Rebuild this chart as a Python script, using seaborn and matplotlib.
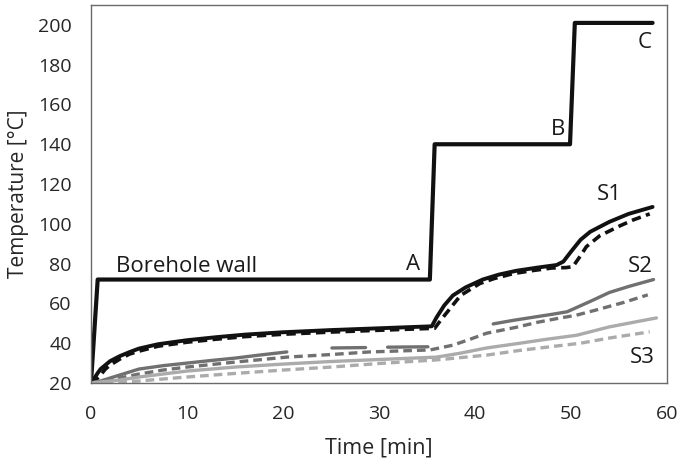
import pandas as pd
import matplotlib
matplotlib.use("Agg")
import matplotlib.pyplot as plt
import seaborn as sns

# borehole wall temperature (steps A, B, C)
bore_t = [0, 0.7, 35.3, 35.8, 49.9, 50.4, 58.5]
bore_T = [20, 72, 72, 140, 140, 201, 201]

# S1
s1_t = [0, 0.3, 0.7, 1, 1.5, 2, 3, 4, 5, 7, 10, 13, 16, 20, 25, 30, 35.5, 36, 36.8,
        37.7, 39, 40.8, 42.5, 44.3, 46.5, 48.5, 49.2, 50, 51, 52, 54, 56, 58.5]
s1_T = [20, 22, 25, 27, 29, 31, 33.5, 35.5, 37.3, 39.5, 41.5, 43, 44.3, 45.5, 46.6, 47.5,
        48.5, 53, 59, 64, 68, 72, 74.5, 76.4, 78, 79.3, 81, 86, 92, 96, 101, 105, 108.5]
s1d_t = [0, 0.5, 1, 1.5, 2, 3, 4, 5, 7, 10, 13, 16, 20, 25, 30, 35.8, 36.5, 37.5, 38.5,
         40.5, 42, 44, 46, 48, 49.5, 50.2, 51, 51.6, 53, 55.1, 56.5, 58.2]
s1d_T = [20, 21.5, 24, 27, 29, 32, 34.5, 36, 38.5, 40.5, 42, 43.3, 44.5, 45.6, 46.5, 47.5,
         52, 58, 64, 70, 72.5, 75, 76.5, 77.8, 78, 78.5, 84, 88.5, 94, 99, 102, 105]

# S2 (solid record has gaps)
s2_segments = [
    ([0, 1, 2, 3, 5, 7.5, 10, 12.5, 15, 17.5, 20.4],
     [20, 21, 22.5, 24, 27, 28.7, 30, 31.3, 32.5, 34, 35.6]),
    ([25.1, 28.6], [37.6, 37.8]),
    ([30.9, 35.1], [38, 38.2]),
    ([41.9, 44, 46, 48, 49.6, 52, 54, 56, 58.6],
     [49.7, 51.5, 53, 54.5, 55.8, 61, 65.5, 68.5, 72]),
]
s2d_t = [0, 2, 5, 7.5, 10, 15, 20.4, 25, 29, 35.3, 37.7, 39.5, 41.2, 44.3, 46.5, 48.9,
         50.5, 52.7, 55.5, 58]
s2d_T = [20, 21.5, 24.5, 26.5, 28, 30.5, 33, 34.3, 35.6, 36.6, 39, 42, 45, 48, 50.5, 52.7,
         54, 56.8, 60.5, 64.3]

# S3
s3_t = [0, 3, 5, 10, 15, 20, 25, 30, 36, 38.5, 41.2, 44.7, 47.5, 50.6, 54, 56.5, 58.9]
s3_T = [20, 21.5, 23, 26, 28, 29.5, 30.8, 31.8, 33, 35, 37.6, 40, 42, 44, 48.2, 50.5, 52.7]
s3d_t = [0, 2, 5, 10, 15, 20, 25, 30, 36, 41.2, 44.7, 48, 51, 54, 58.2]
s3d_T = [20, 20.3, 21, 23, 24.8, 26.5, 28, 29.8, 31.6, 34, 36.4, 38.3, 40, 42.6, 45.7]

sns.set_style("white")
plt.rcParams['font.family'] = ['Open Sans', 'DejaVu Sans']

fig = plt.figure(figsize=(6.85, 4.67), dpi=100)
ax = fig.add_axes([0.1328, 0.1799, 0.8409, 0.8094])

dash = (0, (2.6, 1.5))
black = '#111111'
mid = '#707070'
light = '#ababab'

sns.lineplot(x=bore_t, y=bore_T, ax=ax, color=black, lw=3.0, sort=False)
sns.lineplot(x=s1_t, y=s1_T, ax=ax, color=black, lw=2.8, sort=False)
sns.lineplot(x=s1d_t, y=s1d_T, ax=ax, color=black, lw=2.6, linestyle=dash, sort=False)
for t, T in s2_segments:
    sns.lineplot(x=t, y=T, ax=ax, color=mid, lw=2.4, sort=False)
sns.lineplot(x=s2d_t, y=s2d_T, ax=ax, color=mid, lw=2.4, linestyle=dash, sort=False)
sns.lineplot(x=s3_t, y=s3_T, ax=ax, color=light, lw=2.4, sort=False)
sns.lineplot(x=s3d_t, y=s3d_T, ax=ax, color=light, lw=2.4, linestyle=dash, sort=False)

txt = dict(fontsize=16, color='#1a1a1a', va='center')
ax.text(2.6, 78.4, 'Borehole wall', ha='left', **txt)
ax.text(33.5, 79.4, 'A', ha='center', **txt)
ax.text(48.7, 147.5, 'B', ha='center', **txt)
ax.text(57.7, 191, 'C', ha='center', **txt)
ax.text(54.0, 114.7, 'S1', ha='center', **txt)
ax.text(57.2, 78.4, 'S2', ha='center', **txt)
ax.text(57.4, 32.6, 'S3', ha='center', **txt)

ax.set_xlim(0, 60)
ax.set_ylim(20, 210)
ax.set_xticks(range(0, 61, 10))
ax.set_yticks(range(20, 201, 20))
ax.tick_params(direction='in', length=5, width=1, colors='#595959',
               labelcolor='#262626', labelsize=14)
ax.tick_params(axis='x', pad=16)
ax.tick_params(axis='y', pad=14)
for s in ax.spines.values():
    s.set_color('#6a6a6a')
    s.set_linewidth(1.0)

ax.set_xlabel('Time [min]', fontsize=15.5, color='#262626', labelpad=10)
ax.set_ylabel('Temperature [°C]', fontsize=15, color='#262626', labelpad=6)

fig.savefig('out.png', dpi=100)
